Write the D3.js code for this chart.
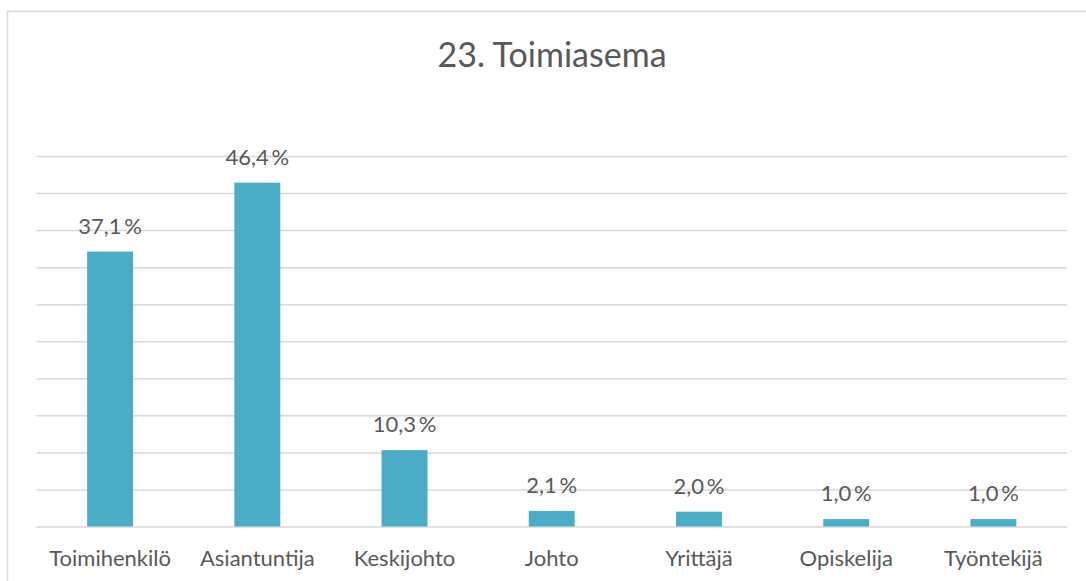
<!DOCTYPE html>
<html>
<head>
<meta charset="utf-8">
<script src="https://cdn.jsdelivr.net/npm/d3@7"></script>
<style>
  body { margin: 0; background: #fff; }
  text { font-family: Lato, "Open Sans", sans-serif; fill: #595959; }
</style>
</head>
<body>
<div id="chart"></div>
<script>
// chart data
const title = "23. Toimiasema";
const categories = ["Toimihenkilö", "Asiantuntija", "Keskijohto", "Johto", "Yrittäjä", "Opiskelija", "Työntekijä"];
const values = [37.1, 46.4, 10.3, 2.1, 2.0, 1.0, 1.0];
const yTicks = [0, 5, 10, 15, 20, 25, 30, 35, 40, 45, 50];

const W = 1086, H = 581;
let margin = { top: 156, right: 19, bottom: 54.5, left: 36.5 },
  width = W - margin.left - margin.right,
  height = H - margin.top - margin.bottom;

let svg = d3.select("#chart").append("svg")
  .attr("width", W)
  .attr("height", H);

// outer chart frame (only top and left edges are visible)
svg.append("path")
  .attr("d", "M7.5," + H + "V11.5H" + W)
  .attr("fill", "none")
  .attr("stroke", "#d9d9d9")
  .attr("stroke-width", 1.5);

svg.append("text")
  .attr("x", 552)
  .attr("y", 67)
  .attr("text-anchor", "middle")
  .style("font-size", "34px")
  .text(title);

let g = svg.append("g")
  .attr("transform", "translate(" + margin.left + "," + margin.top + ")");

// scales
let x = d3.scaleBand()
  .domain(categories)
  .range([0, width])
  .paddingInner(0.688)
  .paddingOuter(0.344);
let y = d3.scaleLinear().domain([0, 50]).range([height, 0]);

// horizontal gridlines
g.append("g")
  .call(d3.axisLeft(y).tickValues(yTicks).tickSize(-width).tickFormat(""))
  .call(s => s.select(".domain").remove())
  .call(s => s.selectAll(".tick line").attr("stroke", "#d9d9d9").attr("stroke-width", 1.5));

// bars
g.selectAll(".bar")
  .data(values)
  .enter().append("rect")
  .attr("class", "bar")
  .attr("x", (d, i) => x(categories[i]))
  .attr("width", x.bandwidth())
  .attr("y", d => y(d))
  .attr("height", d => height - y(d))
  .attr("fill", "#4bacc6");

// value labels
let fmt = d => d.toFixed(1).replace(".", ",") + "\u2009%";
g.selectAll(".val")
  .data(values)
  .enter().append("text")
  .attr("class", "val")
  .attr("x", (d, i) => x(categories[i]) + x.bandwidth() / 2)
  .attr("y", d => y(d) - 18)
  .attr("text-anchor", "middle")
  .style("font-size", "22px")
  .text(fmt);

// category axis labels
g.append("g")
  .attr("transform", "translate(0," + height + ")")
  .call(d3.axisBottom(x).tickSize(0).tickPadding(0))
  .call(s => s.select(".domain").remove())
  .call(s => s.selectAll(".tick text")
    .attr("dy", 0)
    .attr("y", 39)
    .style("font-size", "22px")
    .style("font-family", "Lato, 'Open Sans', sans-serif")
    .attr("fill", "#595959"));
</script>
</body>
</html>
